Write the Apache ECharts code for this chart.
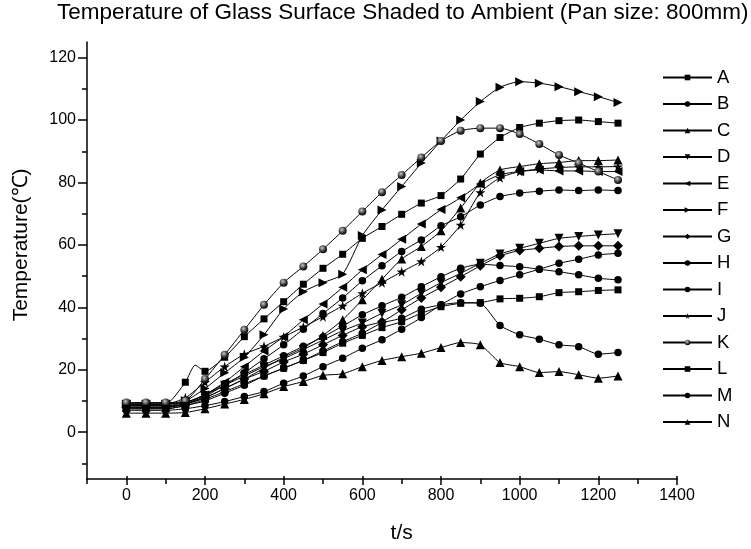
<!DOCTYPE html>
<html>
<head>
<meta charset="utf-8">
<title>Temperature of Glass Surface Shaded to Ambient</title>
<script src="https://cdn.jsdelivr.net/npm/echarts@6/dist/echarts.min.js"></script>
<style>
  * { margin: 0; padding: 0; }
  body { background: #fff; }
</style>
</head>
<body>
<div id="main" style="width:751px;height:549px;"></div>
<script>
// time (s) of each marked reading
var times = [0,50,100,150,200,250,300,350,400,450,500,550,600,650,700,750,800,850,900,950,1000,1050,1100,1150,1200,1250];

// temperatures, one list per curve
var A = [9,9,9,16,19.5,24,30.6,36.3,41.8,47.4,52.5,57,62.1,65.9,69.8,73.4,75.8,81.1,89.1,94.4,97.6,99,99.8,100,99.5,99];
var B = [8.5,8.5,8.5,9,12,15,19,23.5,28,33,38,43,48.5,53.3,57.9,61.6,66.1,69,72.8,75.5,76.6,77.2,77.6,77.4,77.6,77.4];
var C = [8,8,8,9,11,14,17,20.5,24,27,31,36,42.4,49,55.5,59.5,64.5,71.8,79.8,84,85.1,86,86.4,87,87,87.2];
var D = [8,8,8,9,11.5,15,18,21,23.5,26.5,29.5,32.5,35,38.1,40.8,44.5,47.9,50.9,54.1,57.1,58.9,60.5,62.1,62.7,63.2,63.6];
var E = [9,9,9,9.5,12,16,21,26,30.6,36,41.1,46.4,52,56.9,61.8,66.7,71.3,75.1,79.5,82.5,83.5,84,83.7,83.7,83.5,83.5];
var F = [9,9,9,10,14,19,24,31.2,39.5,45,47.9,50.6,63,71.2,78.7,86.2,93.3,100,105.9,110.5,112.3,111.8,110.7,109.1,107.5,105.6];
var G = [8,8,8,9,11,14,17,19.5,22.5,25,28,31,33.8,35.4,39.2,43,46.4,49.8,53.3,56.5,58.2,58.9,59.5,59.7,59.7,59.7];
var H = [7,7,7,7.5,8.5,9.8,11.4,13,15.7,18,21,23.7,26.9,29.6,33,36.7,40.8,44.3,46.6,48.6,50.4,52.2,54.1,55.4,56.8,57.3];
var I = [8.5,8.5,8.5,9.5,12,15.5,18.5,21.5,24.5,27.5,30.5,34,37.6,40.5,43.2,46.6,49.8,52.5,53.8,53.4,53,52.2,51.4,50.4,49.3,48.8];
var J = [9,9,9,11,16,21,25,27.5,30.5,33.7,37,40.5,44.5,47.9,51.4,54.7,59.3,66.4,76.8,81.5,83.5,84.3,84.8,85,85,85.1];
var K = [9.5,9.5,9.5,10,17,24.8,32.8,40.8,47.9,53.1,58.6,64.5,70.7,76.9,82.4,88,93.3,96.6,97.4,97.4,95.5,92.3,88.8,86.2,83.5,80.8];
var L = [7.5,7.5,7.5,8.5,10.5,13,15.5,18,20.5,23,25.5,28.5,31,33.5,35.4,38.1,40.2,41.3,41.5,42.7,42.9,43.4,44.7,45,45.4,45.6];
var M = [7.5,7.5,7.5,8.5,10,12.5,15,18,20.5,23,26,29,31.7,35,36.5,39.4,40.8,41.5,41.3,34.2,31.2,29.8,28,27.4,25,25.5];
var N = [6.1,6.1,6.1,6.3,7.5,9,10.5,12.3,14.6,16.2,18.2,18.7,21,23,24.2,25.3,27.1,28.7,28,22.3,21,19.1,19.4,18.4,17.3,18];

// a reading between markers on curve A (the little bump after 150 s)
var A_unmarkedT = [175];
var A_unmarked = [21.5];

var names = ['A','B','C','D','E','F','G','H','I','J','K','L','M','N'];
var values = [A,B,C,D,E,F,G,H,I,J,K,L,M,N];

// tick labels
var xLabels = [0,200,400,600,800,1000,1200,1400];
var yLabels = [0,20,40,60,80,100,120];

var starPath = 'path://M50,0 L61.8,35.1 L98.5,35.1 L68.8,56.7 L79.4,90.5 L50,69.1 L20.6,90.5 L31.2,56.7 L1.5,35.1 L38.2,35.1 Z';
var sphere = {
  type: 'radial', x: 0.4, y: 0.35, r: 0.7,
  colorStops: [{offset: 0, color: '#c8c8c8'}, {offset: 0.6, color: '#333'}, {offset: 1, color: '#000'}]
};
// marker for each curve: symbol, size, rotation
var markers = {
  A: ['rect', 7, 0], B: ['circle', 7.5, 0], C: ['triangle', 9, 0], D: ['triangle', 9, 180],
  E: ['triangle', 9, 90], F: ['triangle', 9, -90], G: ['diamond', 10, 0], H: ['circle', 7.5, 0],
  I: ['circle', 7.5, 0], J: [starPath, 10, 0], K: ['circle', 8, 0], L: ['rect', 7, 0],
  M: ['circle', 7.5, 0], N: ['triangle', 9, 0]
};

var font = "'Liberation Sans', Arial, sans-serif";
var chart = echarts.init(document.getElementById('main'));

var series = names.map(function (n, k) {
  var m = markers[n];
  var data = times.map(function (t, i) { return {value: [t, values[k][i]]}; });
  if (n === 'A') {
    A_unmarkedT.forEach(function (t, i) {
      data.push({value: [t, A_unmarked[i]], symbol: 'none'});
    });
    data.sort(function (a, b) { return a.value[0] - b.value[0]; });
  }
  return {
    name: n,
    type: 'line',
    xAxisIndex: 0,
    yAxisIndex: 0,
    smooth: 0.2,
    symbol: m[0],
    symbolSize: m[1],
    symbolRotate: m[2],
    showAllSymbol: true,
    lineStyle: {color: '#000', width: 1},
    itemStyle: {color: n === 'K' ? sphere : '#000', borderWidth: 0},
    emphasis: {disabled: true},
    data: data
  };
});

var hidden = {show: false, type: 'value', min: 0, max: 1};

chart.setOption({
  animation: false,
  backgroundColor: '#fff',
  title: {
    text: 'Temperature of Glass Surface Shaded to Ambient (Pan size: 800mm)',
    left: 57,
    top: 1,
    padding: 0,
    textStyle: {fontFamily: font, fontSize: 22.5, fontWeight: 'normal', color: '#000'}
  },
  legend: {
    orient: 'vertical',
    left: 662,
    top: 68,
    padding: 0,
    itemWidth: 49,
    itemHeight: 7,
    itemGap: 7.5,
    textStyle: {fontFamily: font, fontSize: 18.5, color: '#000'},
    data: names
  },
  grid: [
    {left: 87, right: 74, top: 42, bottom: 70},          // data
    {left: 126.33, right: 74, top: 42, bottom: 70},      // x major ticks/labels
    {left: 87, right: 74, top: 57.61, bottom: 116.82},   // y major ticks/labels
    {left: 87, right: 74, top: 57.61, bottom: 85.61}     // y minor ticks
  ],
  xAxis: [
    {
      gridIndex: 0, type: 'value', min: -100, max: 1400, interval: 100,
      axisLine: {onZero: false, lineStyle: {color: '#000', width: 1.5}},
      axisTick: {length: 5, lineStyle: {color: '#000', width: 1.5}},
      axisLabel: {show: false},
      splitLine: {show: false}
    },
    {
      gridIndex: 1, type: 'value', min: 0, max: 1400, interval: 200,
      axisLine: {show: false, onZero: false},
      axisTick: {length: 9, lineStyle: {color: '#000', width: 1.5}},
      axisLabel: {
        margin: 12, color: '#000', fontFamily: font, fontSize: 16,
        formatter: function (v) { return xLabels.indexOf(v) >= 0 ? String(v) : ''; }
      },
      splitLine: {show: false},
      name: 't/s', nameLocation: 'middle', nameGap: 47,
      nameTextStyle: {fontFamily: font, fontSize: 21, color: '#000'}
    },
    Object.assign({gridIndex: 2}, hidden),
    Object.assign({gridIndex: 3}, hidden)
  ],
  yAxis: [
    {
      gridIndex: 0, type: 'value', min: -15, max: 125,
      axisLine: {show: true, onZero: false, lineStyle: {color: '#000', width: 1.5}},
      axisTick: {show: false},
      axisLabel: {show: false},
      splitLine: {show: false}
    },
    Object.assign({gridIndex: 1}, hidden),
    {
      gridIndex: 2, type: 'value', min: 0, max: 120, interval: 20,
      axisLine: {show: false, onZero: false},
      axisTick: {length: 9, lineStyle: {color: '#000', width: 1.5}},
      axisLabel: {
        margin: 11, color: '#000', fontFamily: font, fontSize: 16,
        formatter: function (v) { return yLabels.indexOf(v) >= 0 ? String(v) : ''; }
      },
      splitLine: {show: false},
      name: 'Temperature(℃)', nameLocation: 'middle', nameGap: 55,
      nameTextStyle: {fontFamily: font, fontSize: 21, color: '#000'}
    },
    {
      gridIndex: 3, type: 'value', min: -10, max: 120, interval: 10,
      axisLine: {show: false, onZero: false},
      axisTick: {length: 5, lineStyle: {color: '#000', width: 1.5}},
      axisLabel: {show: false},
      splitLine: {show: false}
    }
  ],
  series: series
});
</script>
</body>
</html>
